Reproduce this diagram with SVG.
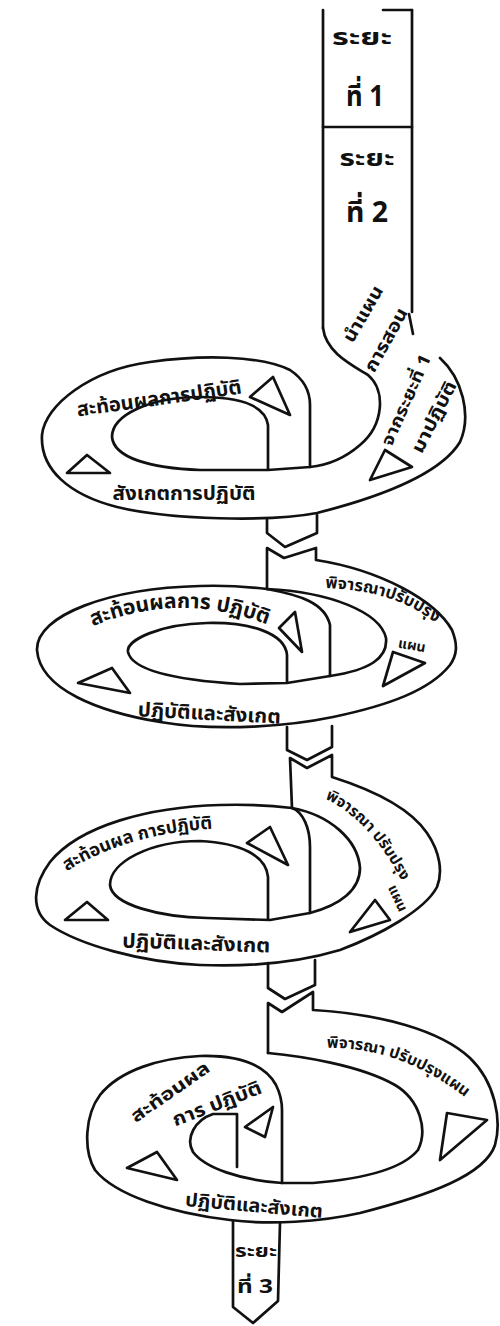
<svg xmlns="http://www.w3.org/2000/svg" width="500" height="1326" viewBox="0 0 500 1326">
<style>
.ln{fill:none;stroke:#111;stroke-width:2.7;stroke-linecap:round;stroke-linejoin:round}
.tri{fill:none;stroke:#111;stroke-width:2.7;stroke-linejoin:round}
.t{font-family:"Noto Sans Thai","Noto Sans Thai UI","Loma","Garuda","Tlwg Typo","Noto Sans","DejaVu Sans",sans-serif;font-weight:700;fill:#111}
</style>
<defs>
<path id="p2top" d="M80,632 Q180,585 280,630"/>
<path id="p2right" d="M315,588 Q400,588 443,630"/>
<path id="p3top" d="M46,886 Q120,828 238,828"/>
<path id="p3right" d="M318,796 C345,805 380,835 405,888"/>
<path id="p4right" d="M318,1048 C370,1046 420,1060 472,1103"/>
</defs>
<rect width="500" height="1326" fill="#fff"/>

<g id="phase-1-2">
<path class="ln" d="M383,10 L412,10"/>
<path class="ln" d="M412,10 L412,312"/>
<path class="ln" d="M409,314 L413,334"/>
<path class="ln" d="M323,10 L323,328"/>
<path class="ln" d="M323,127 L412,127"/>
<text class="t" x="362" y="45" font-size="23" text-anchor="middle" textLength="60" lengthAdjust="spacingAndGlyphs">ระยะ</text>
<text class="t" x="365" y="106" font-size="29" text-anchor="middle" textLength="38" lengthAdjust="spacingAndGlyphs">ที่ 1</text>
<text class="t" x="367" y="166" font-size="23" text-anchor="middle" textLength="55" lengthAdjust="spacingAndGlyphs">ระยะ</text>
<text class="t" x="367" y="222" font-size="29" text-anchor="middle" textLength="42" lengthAdjust="spacingAndGlyphs">ที่ 2</text>
</g>

<g id="loop-1">
<path class="ln" d="M440,358 C462,378 472,415 460,442 C440,475 380,497 317,513 C270,522 170,520 117,507 C70,495 40,470 42,435 C45,405 90,370 150,362 C200,355 260,355 290,370 C305,380 310,392 310,405 L310,467"/>
<path class="ln" d="M323,328 C326,352 350,364 368,375 C386,390 384,425 360,445 C345,458 330,465 310,467 L268,470 L200,470 C150,468 114,458 112,437 C112,415 150,397 200,397 C240,397 265,405 268,425 L268,470"/>
<polygon class="tri" points="250,397 273,377 290,415"/>
<polygon class="tri" points="67,473 87,455 110,473"/>
<polygon class="tri" points="370,480 385,450 412,467"/>
<text class="t" font-size="18" text-anchor="middle" y="6" textLength="62" lengthAdjust="spacingAndGlyphs" transform="translate(363,314) rotate(-60)">นำแผน</text>
<text class="t" font-size="18" text-anchor="middle" y="6" textLength="70" lengthAdjust="spacingAndGlyphs" transform="translate(386,340) rotate(-61)">การสอน</text>
<text class="t" font-size="17" text-anchor="middle" y="6" textLength="98" lengthAdjust="spacingAndGlyphs" transform="translate(406,400) rotate(-66)">จากระยะที่ 1</text>
<text class="t" font-size="18" text-anchor="middle" y="6" textLength="78" lengthAdjust="spacingAndGlyphs" transform="translate(434,417) rotate(-63)">มาปฏิบัติ</text>
<text class="t" font-size="20" text-anchor="middle" textLength="166" lengthAdjust="spacingAndGlyphs" transform="translate(160,405) rotate(-8)">สะท้อนผลการปฏิบัติ</text>
<text class="t" font-size="20" x="184" y="500" text-anchor="middle" textLength="143" lengthAdjust="spacingAndGlyphs">สังเกตการปฏิบัติ</text>
</g>

<g id="loop-2">
<path class="ln" d="M267,589 L267,548 L284,558 L316,548 L316,560 C380,570 435,600 452,630 C458,645 457,655 450,665 C430,690 390,705 333,717 C290,726 220,732 160,722 C100,712 40,690 37,650 C36,615 110,588 200,586 C230,585 250,587 267,589"/>
<path class="ln" d="M267,589 C300,595 325,603 330,625 L330,676"/>
<path class="ln" d="M287,683 L287,655 C285,633 250,622 207,623 C160,624 126,640 128,652 C132,670 175,680 240,684 L287,683 L330,676 C370,670 388,658 386,638 C380,612 330,592 267,589"/>
<polygon class="tri" points="279,628 295,612 302,652"/>
<polygon class="tri" points="78,683 112,668 130,693"/>
<polygon class="tri" points="393,652 425,663 383,686"/>
<text class="t" font-size="21"><textPath href="#p2top" startOffset="50%" text-anchor="middle">สะท้อนผลการ ปฏิบัติ</textPath></text>
<text class="t" font-size="20" text-anchor="middle" textLength="143" lengthAdjust="spacingAndGlyphs" transform="translate(209,720) rotate(3)">ปฏิบัติและสังเกต</text>
<text class="t" font-size="16.5"><textPath href="#p2right" startOffset="50%" text-anchor="middle">พิจารณาปรับปรุง</textPath></text>
<text class="t" font-size="14" text-anchor="middle" y="5" transform="translate(412,645) rotate(10)">แผน</text>
</g>

<g id="loop-3">
<path class="ln" d="M292,808 L290,758 L307,768 L332,755 L332,777 C373,790 410,808 427,833 C440,852 443,872 437,887 C425,910 380,935 340,950 C300,962 250,967 200,965 C140,962 80,945 50,925 C30,910 33,885 50,862 C80,825 150,807 220,805 C250,804 275,806 292,808"/>
<path class="ln" d="M292,808 C303,812 310,828 310,847 L310,913"/>
<path class="ln" d="M268,920 L268,877 C266,855 240,843 200,841 C150,841 110,862 110,885 C112,905 160,917 207,918 L270,920 L310,913 C340,905 360,890 360,868 C358,840 330,815 292,808"/>
<polygon class="tri" points="247,843 270,827 288,865"/>
<polygon class="tri" points="65,920 87,902 108,920"/>
<polygon class="tri" points="350,932 375,900 390,920"/>
<text class="t" font-size="18"><textPath href="#p3top" startOffset="50%" text-anchor="middle">สะท้อนผล การปฏิบัติ</textPath></text>
<text class="t" font-size="20" text-anchor="middle" textLength="148" lengthAdjust="spacingAndGlyphs" transform="translate(196,950) rotate(2)">ปฏิบัติและสังเกต</text>
<text class="t" font-size="15.5"><textPath href="#p3right" startOffset="50%" text-anchor="middle">พิจารณา ปรับปรุง</textPath></text>
<text class="t" font-size="14" text-anchor="middle" y="5" transform="translate(398,898) rotate(65)">แผน</text>
</g>

<g id="loop-4">
<path class="ln" d="M268,1053 L268,1003 L282,1012 L313,992 L313,1010 C380,1014 440,1030 470,1058 C495,1082 502,1120 495,1145 C485,1175 430,1195 360,1213 C320,1222 270,1225 230,1220 C170,1213 115,1195 95,1170 C83,1150 85,1115 100,1095 C120,1070 160,1058 200,1056 C240,1055 265,1065 276,1085 C281,1095 282,1105 282,1110 L282,1183"/>
<path class="ln" d="M268,1053 C300,1056 360,1065 395,1085 C420,1100 428,1130 418,1150 C400,1172 350,1180 313,1183 L282,1183 C240,1180 205,1168 193,1152 C185,1138 195,1120 213,1114 L237,1114 L237,1167"/>
<polygon class="tri" points="127,1168 157,1152 177,1180"/>
<polygon class="tri" points="245,1127 273,1107 265,1137"/>
<polygon class="tri" points="440,1160 447,1113 487,1120"/>
<text class="t" font-size="18" text-anchor="middle" y="6" textLength="92" lengthAdjust="spacingAndGlyphs" transform="translate(170,1092) rotate(-35)">สะท้อนผล</text>
<text class="t" font-size="19" text-anchor="middle" y="6" textLength="94" lengthAdjust="spacingAndGlyphs" transform="translate(217,1104) rotate(-21)">การ ปฏิบัติ</text>
<text class="t" font-size="19" text-anchor="middle" y="6" textLength="138" lengthAdjust="spacingAndGlyphs" transform="translate(254,1206) rotate(5)">ปฏิบัติและสังเกต</text>
<text class="t" font-size="16"><textPath href="#p4right" startOffset="50%" text-anchor="middle">พิจารณา ปรับปรุงแผน</textPath></text>
</g>

<g id="phase-3">
<path class="ln" d="M233,1221 L233,1307 L253,1323 L278,1301 L280,1223"/>
<text class="t" x="256" y="1257" font-size="17" text-anchor="middle" textLength="42" lengthAdjust="spacingAndGlyphs">ระยะ</text>
<text class="t" x="255" y="1293" font-size="19" text-anchor="middle" textLength="36" lengthAdjust="spacingAndGlyphs">ที่ 3</text>
</g>

<g id="connectors">
<path class="ln" d="M267,519 L267,533 L285,547 L317,533 L317,515"/>
<path class="ln" d="M287,727 L287,750 L307,760 L332,747 L332,726"/>
<path class="ln" d="M268,963 L268,988 L285,999 L315,985 L315,960"/>
</g>
</svg>
